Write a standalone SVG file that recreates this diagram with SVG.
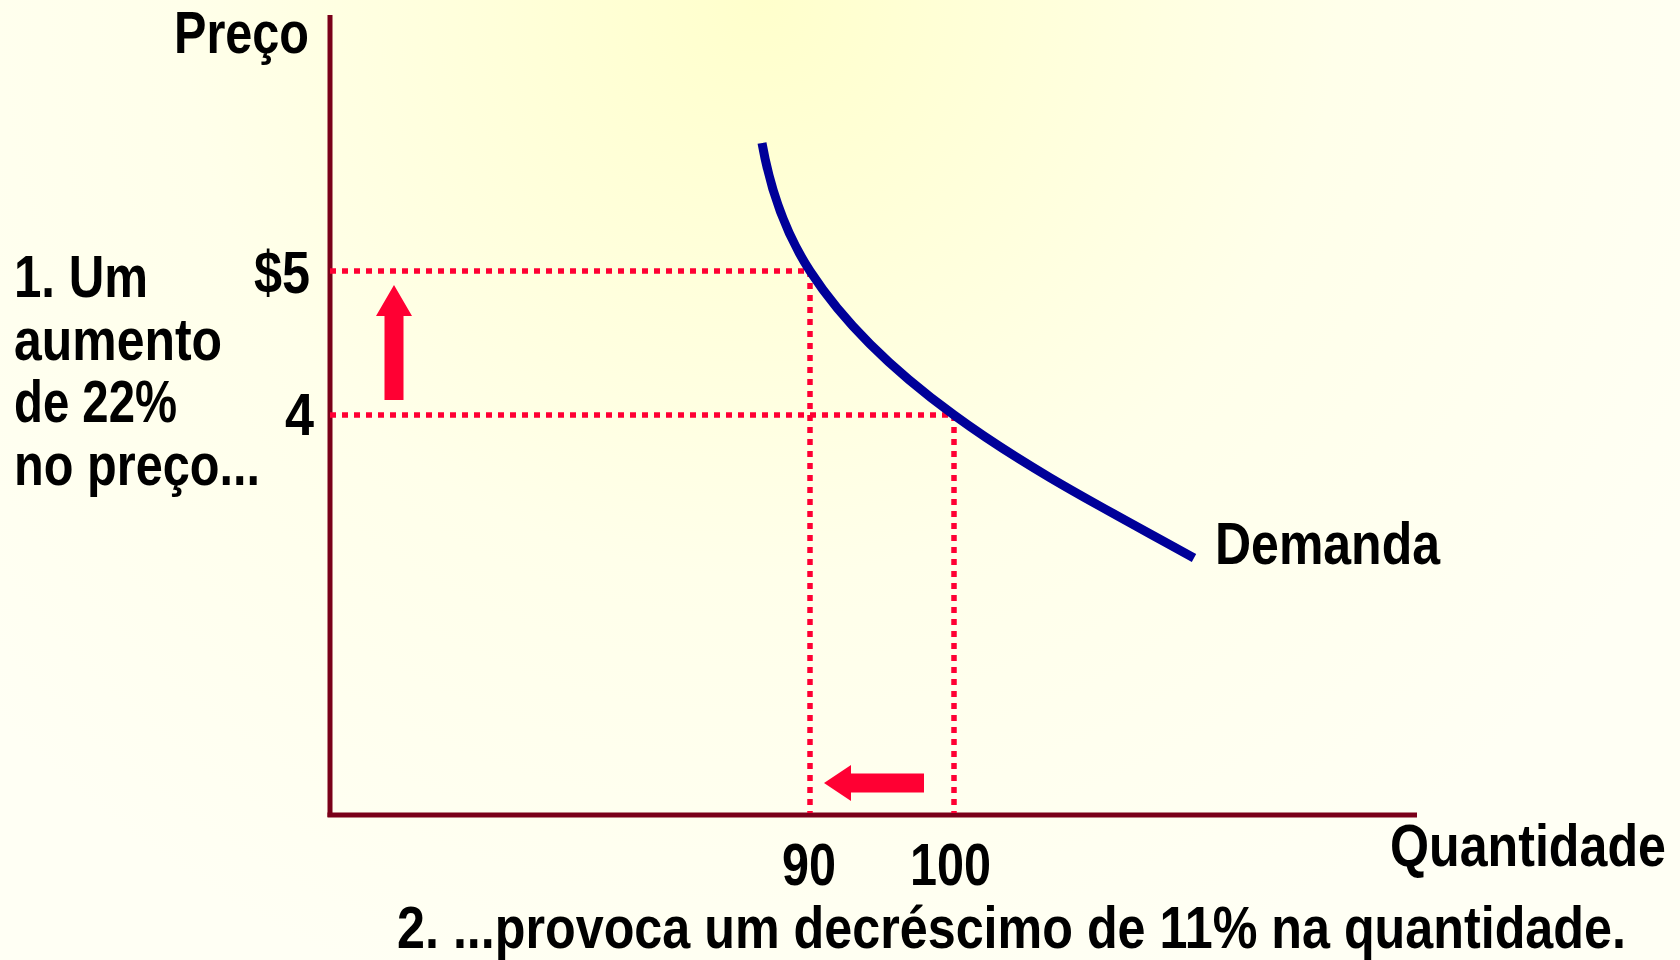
<svg xmlns="http://www.w3.org/2000/svg" width="1680" height="960" viewBox="0 0 1680 960">
<defs>
<radialGradient id="bg" gradientUnits="userSpaceOnUse" cx="760" cy="0" r="1050">
<stop offset="0" stop-color="#FFFFCC"/>
<stop offset="0.55" stop-color="#FFFFEA"/>
<stop offset="1" stop-color="#FFFFF4"/>
</radialGradient>
<style>
.t{font-family:"Liberation Sans Narrow","Liberation Sans",Arial,sans-serif;font-weight:bold;font-size:60px;fill:#000}
.axis{stroke:#7A0019;stroke-width:5;fill:none}
.dot{stroke:#FF0033;stroke-width:5.5;stroke-dasharray:6 6;fill:none}
.arr{fill:#FF0033}
</style>
</defs>
<rect x="0" y="0" width="1680" height="960" fill="url(#bg)"/>
<g id="axes">
<line class="axis" x1="330" y1="15" x2="330" y2="817"/>
<line class="axis" x1="327.5" y1="815" x2="1417" y2="815"/>
</g>
<g id="guides">
<line class="dot" x1="330" y1="271" x2="810" y2="271"/>
<line class="dot" x1="810" y1="271" x2="810" y2="813"/>
<line class="dot" x1="330" y1="415" x2="954" y2="415"/>
<line class="dot" x1="954" y1="415" x2="954" y2="813"/>
</g>
<g id="demand-curve">
<path d="M762,143 C770,188 784,231 810,271 C847,328 899,375 954,415 C1029,470 1113,513 1194,558" fill="none" stroke="#000099" stroke-width="9"/>
</g>
<g id="arrows">
<polygon class="arr" points="394,285 412,316 403.5,316 403.5,400 384.5,400 384.5,316 376,316"/>
<polygon class="arr" points="824,783 851,765 851,773.5 924,773.5 924,792.5 851,792.5 851,801"/>
</g>
<g id="labels">
<text class="t" transform="translate(174,53) scale(0.836,1)" x="0" y="0" textLength="161.5" lengthAdjust="spacingAndGlyphs">Preço</text>
<text class="t" transform="translate(254,293) scale(0.836,1)" x="0" y="0" textLength="67" lengthAdjust="spacingAndGlyphs">$5</text>
<text class="t" transform="translate(285,435) scale(0.836,1)" x="0" y="0" textLength="34.7" lengthAdjust="spacingAndGlyphs">4</text>
<text class="t" transform="translate(14,297) scale(0.836,1)" x="0" y="0" textLength="160.3" lengthAdjust="spacingAndGlyphs">1. Um</text>
<text class="t" transform="translate(14,359.5) scale(0.836,1)" x="0" y="0" textLength="248.8" lengthAdjust="spacingAndGlyphs">aumento</text>
<text class="t" transform="translate(14,422) scale(0.836,1)" x="0" y="0" textLength="195" lengthAdjust="spacingAndGlyphs">de 22%</text>
<text class="t" transform="translate(14,484.5) scale(0.836,1)" x="0" y="0" textLength="294.3" lengthAdjust="spacingAndGlyphs">no preço...</text>
<text class="t" transform="translate(1215,564) scale(0.836,1)" x="0" y="0" textLength="269.1" lengthAdjust="spacingAndGlyphs">Demanda</text>
<text class="t" transform="translate(1390,866) scale(0.836,1)" x="0" y="0" textLength="330.1" lengthAdjust="spacingAndGlyphs">Quantidade</text>
<text class="t" transform="translate(782,885) scale(0.836,1)" x="0" y="0" textLength="64.6" lengthAdjust="spacingAndGlyphs">90</text>
<text class="t" transform="translate(910,885) scale(0.836,1)" x="0" y="0" textLength="96.9" lengthAdjust="spacingAndGlyphs">100</text>
<text class="t" transform="translate(397,948) scale(0.836,1)" x="0" y="0" textLength="1470" lengthAdjust="spacingAndGlyphs">2. ...provoca um decréscimo de 11% na quantidade.</text>
</g>
</svg>
